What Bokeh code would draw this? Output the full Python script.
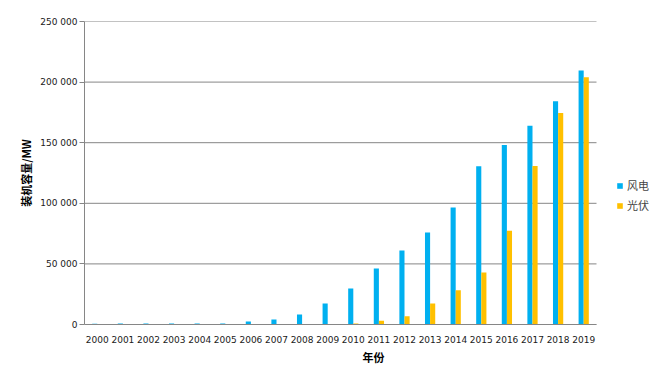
import numpy as np
from bokeh.plotting import figure
from bokeh.models import ColumnDataSource, Range1d, FixedTicker, Legend, LegendItem
from bokeh.transform import dodge
from bokeh.embed import file_html
from bokeh.resources import INLINE

years = [str(y) for y in range(2000, 2020)]
wind = [700, 750, 800, 800, 850, 900, 2500, 4200, 8300, 17300, 29600, 46200, 61000,
        76000, 96600, 130500, 148000, 164000, 184300, 209500]
solar = [500, 500, 500, 500, 500, 500, 500, 500, 500, 500, 800, 3000, 6800,
         17400, 28300, 43000, 77400, 130800, 174500, 204000]
y_ticks = [0, 50000, 100000, 150000, 200000, 250000]
y_tick_labels = ["0", "50 000", "100 000", "150 000", "200 000", "250 000"]

idx = list(range(len(years)))
src = ColumnDataSource(dict(x=idx, year=years, wind=wind, solar=solar))

x_lo = -0.5
x_hi = len(years) - 0.5
extra = 2.578  # room at the right of the plot for the legend

p = figure(width=666, height=368, x_range=Range1d(x_lo, x_hi + extra), y_range=(0, 250000),
           output_backend="svg", toolbar_location=None,
           min_border_left=84, min_border_right=4, min_border_top=21, min_border_bottom=44)

# horizontal grid lines limited to the bar area
p.segment(x0=[x_lo] * len(y_ticks), x1=[x_hi] * len(y_ticks), y0=y_ticks, y1=y_ticks,
          line_color="#868686", line_width=1)

r1 = p.vbar(x=dodge("x", -0.1), top="wind", width=0.2, source=src,
            fill_color="#00B0F0", line_color=None)
r2 = p.vbar(x=dodge("x", 0.1), top="solar", width=0.2, source=src,
            fill_color="#FFC000", line_color=None)

p.outline_line_color = None
p.background_fill_color = "white"
p.xgrid.grid_line_color = None
p.ygrid.grid_line_color = None

p.yaxis.ticker = FixedTicker(ticks=y_ticks)
p.yaxis.major_label_overrides = {t: l for t, l in zip(y_ticks, y_tick_labels)}
p.yaxis.minor_tick_line_color = None
p.yaxis.major_tick_in = 0
p.yaxis.major_tick_out = 5
p.yaxis.axis_line_color = "#868686"
p.yaxis.major_tick_line_color = "#868686"

p.xaxis.ticker = FixedTicker(ticks=idx)
p.xaxis.major_label_overrides = {i: y for i, y in zip(idx, years)}
p.xaxis.bounds = (x_lo, x_hi)
p.xaxis.major_tick_line_color = None
p.xaxis.minor_tick_line_color = None
p.xaxis.axis_line_color = "#868686"

for ax in (p.xaxis[0], p.yaxis[0]):
    ax.major_label_text_font = "DejaVu Sans"
    ax.major_label_text_font_size = "9px"
    ax.major_label_text_color = "#1a1a1a"
    ax.axis_label_text_font = "Noto Sans CJK SC"
    ax.axis_label_text_font_size = "11px"
    ax.axis_label_text_font_style = "bold"
    ax.axis_label_text_color = "#000000"

p.xaxis.axis_label = "年份"
p.yaxis.axis_label = "装机容量/MW"
p.xaxis.major_label_standoff = 5
p.xaxis.axis_label_standoff = 3
p.yaxis.major_label_standoff = 2
p.yaxis.axis_label_standoff = 3

legend = Legend(items=[LegendItem(label="风电", renderers=[r1]),
                       LegendItem(label="光伏", renderers=[r2])],
                location=(532, 111), border_line_color=None, background_fill_alpha=0,
                label_text_font="Noto Sans CJK SC", label_text_font_size="11px",
                glyph_width=7, glyph_height=7, spacing=4, padding=0, label_standoff=4,
                label_height=14)
p.add_layout(legend, "center")

open("out.html", "w").write(file_html(p, INLINE))
